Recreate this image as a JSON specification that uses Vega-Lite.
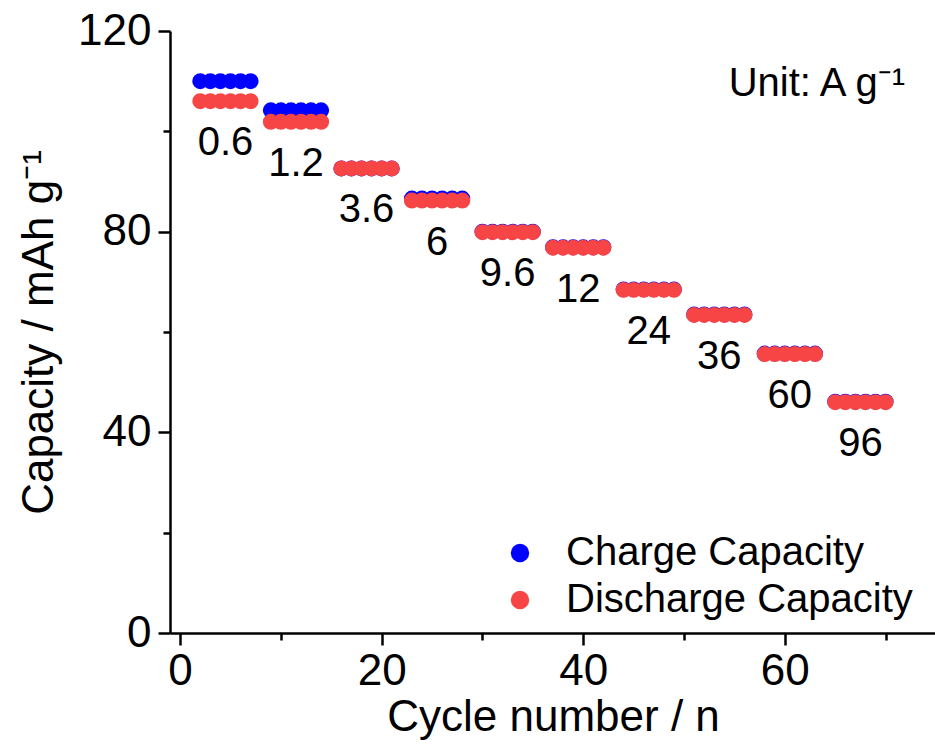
{
  "$schema": "https://vega.github.io/schema/vega-lite/v6.json",
  "width": 766,
  "height": 602,
  "autosize": "none",
  "padding": {"left": 170, "top": 31, "right": 0, "bottom": 123},
  "background": "white",
  "config": {
    "view": {"stroke": null},
    "font": "Liberation Sans",
    "axis": {
      "grid": false,
      "domainColor": "black",
      "domainWidth": 2.5,
      "tickColor": "black",
      "tickWidth": 2.5,
      "labelColor": "black",
      "labelFont": "Liberation Sans",
      "labelFontSize": 44,
      "titleColor": "black",
      "titleFont": "Liberation Sans",
      "titleFontSize": 44,
      "titleFontWeight": "normal"
    }
  },
  "title": {
    "text": "Unit: A g⁻¹",
    "orient": "top",
    "anchor": "end",
    "frame": "group",
    "offset": 0,
    "dx": -31,
    "dy": 127,
    "fontSize": 40,
    "fontWeight": "normal",
    "font": "Liberation Sans",
    "baseline": "alphabetic",
    "color": "black"
  },
  "data": {
    "values": [
      {"cycle": 2, "capacity": 110, "type": "Charge Capacity", "rate": "0.6"},
      {"cycle": 3, "capacity": 110, "type": "Charge Capacity", "rate": "0.6"},
      {"cycle": 4, "capacity": 110, "type": "Charge Capacity", "rate": "0.6"},
      {"cycle": 5, "capacity": 110, "type": "Charge Capacity", "rate": "0.6"},
      {"cycle": 6, "capacity": 110, "type": "Charge Capacity", "rate": "0.6"},
      {"cycle": 7, "capacity": 110, "type": "Charge Capacity", "rate": "0.6"},
      {"cycle": 9, "capacity": 104.2, "type": "Charge Capacity", "rate": "1.2"},
      {"cycle": 10, "capacity": 104.2, "type": "Charge Capacity", "rate": "1.2"},
      {"cycle": 11, "capacity": 104.2, "type": "Charge Capacity", "rate": "1.2"},
      {"cycle": 12, "capacity": 104.2, "type": "Charge Capacity", "rate": "1.2"},
      {"cycle": 13, "capacity": 104.2, "type": "Charge Capacity", "rate": "1.2"},
      {"cycle": 14, "capacity": 104.2, "type": "Charge Capacity", "rate": "1.2"},
      {"cycle": 16, "capacity": 92.6, "type": "Charge Capacity", "rate": "3.6"},
      {"cycle": 17, "capacity": 92.6, "type": "Charge Capacity", "rate": "3.6"},
      {"cycle": 18, "capacity": 92.6, "type": "Charge Capacity", "rate": "3.6"},
      {"cycle": 19, "capacity": 92.6, "type": "Charge Capacity", "rate": "3.6"},
      {"cycle": 20, "capacity": 92.6, "type": "Charge Capacity", "rate": "3.6"},
      {"cycle": 21, "capacity": 92.6, "type": "Charge Capacity", "rate": "3.6"},
      {"cycle": 23, "capacity": 86.6, "type": "Charge Capacity", "rate": "6"},
      {"cycle": 24, "capacity": 86.6, "type": "Charge Capacity", "rate": "6"},
      {"cycle": 25, "capacity": 86.6, "type": "Charge Capacity", "rate": "6"},
      {"cycle": 26, "capacity": 86.6, "type": "Charge Capacity", "rate": "6"},
      {"cycle": 27, "capacity": 86.6, "type": "Charge Capacity", "rate": "6"},
      {"cycle": 28, "capacity": 86.6, "type": "Charge Capacity", "rate": "6"},
      {"cycle": 30, "capacity": 80, "type": "Charge Capacity", "rate": "9.6"},
      {"cycle": 31, "capacity": 80, "type": "Charge Capacity", "rate": "9.6"},
      {"cycle": 32, "capacity": 80, "type": "Charge Capacity", "rate": "9.6"},
      {"cycle": 33, "capacity": 80, "type": "Charge Capacity", "rate": "9.6"},
      {"cycle": 34, "capacity": 80, "type": "Charge Capacity", "rate": "9.6"},
      {"cycle": 35, "capacity": 80, "type": "Charge Capacity", "rate": "9.6"},
      {"cycle": 37, "capacity": 76.9, "type": "Charge Capacity", "rate": "12"},
      {"cycle": 38, "capacity": 76.9, "type": "Charge Capacity", "rate": "12"},
      {"cycle": 39, "capacity": 76.9, "type": "Charge Capacity", "rate": "12"},
      {"cycle": 40, "capacity": 76.9, "type": "Charge Capacity", "rate": "12"},
      {"cycle": 41, "capacity": 76.9, "type": "Charge Capacity", "rate": "12"},
      {"cycle": 42, "capacity": 76.9, "type": "Charge Capacity", "rate": "12"},
      {"cycle": 44, "capacity": 68.5, "type": "Charge Capacity", "rate": "24"},
      {"cycle": 45, "capacity": 68.5, "type": "Charge Capacity", "rate": "24"},
      {"cycle": 46, "capacity": 68.5, "type": "Charge Capacity", "rate": "24"},
      {"cycle": 47, "capacity": 68.5, "type": "Charge Capacity", "rate": "24"},
      {"cycle": 48, "capacity": 68.5, "type": "Charge Capacity", "rate": "24"},
      {"cycle": 49, "capacity": 68.5, "type": "Charge Capacity", "rate": "24"},
      {"cycle": 51, "capacity": 63.5, "type": "Charge Capacity", "rate": "36"},
      {"cycle": 52, "capacity": 63.5, "type": "Charge Capacity", "rate": "36"},
      {"cycle": 53, "capacity": 63.5, "type": "Charge Capacity", "rate": "36"},
      {"cycle": 54, "capacity": 63.5, "type": "Charge Capacity", "rate": "36"},
      {"cycle": 55, "capacity": 63.5, "type": "Charge Capacity", "rate": "36"},
      {"cycle": 56, "capacity": 63.5, "type": "Charge Capacity", "rate": "36"},
      {"cycle": 58, "capacity": 55.7, "type": "Charge Capacity", "rate": "60"},
      {"cycle": 59, "capacity": 55.7, "type": "Charge Capacity", "rate": "60"},
      {"cycle": 60, "capacity": 55.7, "type": "Charge Capacity", "rate": "60"},
      {"cycle": 61, "capacity": 55.7, "type": "Charge Capacity", "rate": "60"},
      {"cycle": 62, "capacity": 55.7, "type": "Charge Capacity", "rate": "60"},
      {"cycle": 63, "capacity": 55.7, "type": "Charge Capacity", "rate": "60"},
      {"cycle": 65, "capacity": 46.1, "type": "Charge Capacity", "rate": "96"},
      {"cycle": 66, "capacity": 46.1, "type": "Charge Capacity", "rate": "96"},
      {"cycle": 67, "capacity": 46.1, "type": "Charge Capacity", "rate": "96"},
      {"cycle": 68, "capacity": 46.1, "type": "Charge Capacity", "rate": "96"},
      {"cycle": 69, "capacity": 46.1, "type": "Charge Capacity", "rate": "96"},
      {"cycle": 70, "capacity": 46.1, "type": "Charge Capacity", "rate": "96"},
      {"cycle": 2, "capacity": 106, "type": "Discharge Capacity", "rate": "0.6"},
      {"cycle": 3, "capacity": 106, "type": "Discharge Capacity", "rate": "0.6"},
      {"cycle": 4, "capacity": 106, "type": "Discharge Capacity", "rate": "0.6"},
      {"cycle": 5, "capacity": 106, "type": "Discharge Capacity", "rate": "0.6"},
      {"cycle": 6, "capacity": 106, "type": "Discharge Capacity", "rate": "0.6"},
      {"cycle": 7, "capacity": 106, "type": "Discharge Capacity", "rate": "0.6"},
      {"cycle": 9, "capacity": 101.9, "type": "Discharge Capacity", "rate": "1.2"},
      {"cycle": 10, "capacity": 101.9, "type": "Discharge Capacity", "rate": "1.2"},
      {"cycle": 11, "capacity": 101.9, "type": "Discharge Capacity", "rate": "1.2"},
      {"cycle": 12, "capacity": 101.9, "type": "Discharge Capacity", "rate": "1.2"},
      {"cycle": 13, "capacity": 101.9, "type": "Discharge Capacity", "rate": "1.2"},
      {"cycle": 14, "capacity": 101.9, "type": "Discharge Capacity", "rate": "1.2"},
      {"cycle": 16, "capacity": 92.6, "type": "Discharge Capacity", "rate": "3.6"},
      {"cycle": 17, "capacity": 92.6, "type": "Discharge Capacity", "rate": "3.6"},
      {"cycle": 18, "capacity": 92.6, "type": "Discharge Capacity", "rate": "3.6"},
      {"cycle": 19, "capacity": 92.6, "type": "Discharge Capacity", "rate": "3.6"},
      {"cycle": 20, "capacity": 92.6, "type": "Discharge Capacity", "rate": "3.6"},
      {"cycle": 21, "capacity": 92.6, "type": "Discharge Capacity", "rate": "3.6"},
      {"cycle": 23, "capacity": 86.2, "type": "Discharge Capacity", "rate": "6"},
      {"cycle": 24, "capacity": 86.2, "type": "Discharge Capacity", "rate": "6"},
      {"cycle": 25, "capacity": 86.2, "type": "Discharge Capacity", "rate": "6"},
      {"cycle": 26, "capacity": 86.2, "type": "Discharge Capacity", "rate": "6"},
      {"cycle": 27, "capacity": 86.2, "type": "Discharge Capacity", "rate": "6"},
      {"cycle": 28, "capacity": 86.2, "type": "Discharge Capacity", "rate": "6"},
      {"cycle": 30, "capacity": 79.9, "type": "Discharge Capacity", "rate": "9.6"},
      {"cycle": 31, "capacity": 79.9, "type": "Discharge Capacity", "rate": "9.6"},
      {"cycle": 32, "capacity": 79.9, "type": "Discharge Capacity", "rate": "9.6"},
      {"cycle": 33, "capacity": 79.9, "type": "Discharge Capacity", "rate": "9.6"},
      {"cycle": 34, "capacity": 79.9, "type": "Discharge Capacity", "rate": "9.6"},
      {"cycle": 35, "capacity": 79.9, "type": "Discharge Capacity", "rate": "9.6"},
      {"cycle": 37, "capacity": 76.8, "type": "Discharge Capacity", "rate": "12"},
      {"cycle": 38, "capacity": 76.8, "type": "Discharge Capacity", "rate": "12"},
      {"cycle": 39, "capacity": 76.8, "type": "Discharge Capacity", "rate": "12"},
      {"cycle": 40, "capacity": 76.8, "type": "Discharge Capacity", "rate": "12"},
      {"cycle": 41, "capacity": 76.8, "type": "Discharge Capacity", "rate": "12"},
      {"cycle": 42, "capacity": 76.8, "type": "Discharge Capacity", "rate": "12"},
      {"cycle": 44, "capacity": 68.4, "type": "Discharge Capacity", "rate": "24"},
      {"cycle": 45, "capacity": 68.4, "type": "Discharge Capacity", "rate": "24"},
      {"cycle": 46, "capacity": 68.4, "type": "Discharge Capacity", "rate": "24"},
      {"cycle": 47, "capacity": 68.4, "type": "Discharge Capacity", "rate": "24"},
      {"cycle": 48, "capacity": 68.4, "type": "Discharge Capacity", "rate": "24"},
      {"cycle": 49, "capacity": 68.4, "type": "Discharge Capacity", "rate": "24"},
      {"cycle": 51, "capacity": 63.4, "type": "Discharge Capacity", "rate": "36"},
      {"cycle": 52, "capacity": 63.4, "type": "Discharge Capacity", "rate": "36"},
      {"cycle": 53, "capacity": 63.4, "type": "Discharge Capacity", "rate": "36"},
      {"cycle": 54, "capacity": 63.4, "type": "Discharge Capacity", "rate": "36"},
      {"cycle": 55, "capacity": 63.4, "type": "Discharge Capacity", "rate": "36"},
      {"cycle": 56, "capacity": 63.4, "type": "Discharge Capacity", "rate": "36"},
      {"cycle": 58, "capacity": 55.6, "type": "Discharge Capacity", "rate": "60"},
      {"cycle": 59, "capacity": 55.6, "type": "Discharge Capacity", "rate": "60"},
      {"cycle": 60, "capacity": 55.6, "type": "Discharge Capacity", "rate": "60"},
      {"cycle": 61, "capacity": 55.6, "type": "Discharge Capacity", "rate": "60"},
      {"cycle": 62, "capacity": 55.6, "type": "Discharge Capacity", "rate": "60"},
      {"cycle": 63, "capacity": 55.6, "type": "Discharge Capacity", "rate": "60"},
      {"cycle": 65, "capacity": 46, "type": "Discharge Capacity", "rate": "96"},
      {"cycle": 66, "capacity": 46, "type": "Discharge Capacity", "rate": "96"},
      {"cycle": 67, "capacity": 46, "type": "Discharge Capacity", "rate": "96"},
      {"cycle": 68, "capacity": 46, "type": "Discharge Capacity", "rate": "96"},
      {"cycle": 69, "capacity": 46, "type": "Discharge Capacity", "rate": "96"},
      {"cycle": 70, "capacity": 46, "type": "Discharge Capacity", "rate": "96"}
    ]
  },
  "layer": [
    {
      "mark": {"type": "point", "filled": true, "shape": "circle", "size": 254, "opacity": 1, "strokeWidth": 0},
      "encoding": {
        "x": {
          "field": "cycle",
          "type": "quantitative",
          "scale": {"domain": [-1, 75], "nice": false, "zero": false},
          "axis": {
            "title": "Cycle number / n",
            "values": [0, 10, 20, 30, 40, 50, 60, 70],
            "labelExpr": "datum.value % 20 === 0 ? datum.label : ''",
            "tickSize": {"condition": {"test": "datum.value % 20 === 0", "value": 12}, "value": 7},
            "labelPadding": 4,
            "titlePadding": 2
          }
        },
        "y": {
          "field": "capacity",
          "type": "quantitative",
          "scale": {"domain": [0, 120], "nice": false},
          "axis": {
            "title": "Capacity / mAh g⁻¹",
            "values": [0, 20, 40, 60, 80, 100, 120],
            "labelExpr": "datum.value % 40 === 0 ? datum.label : ''",
            "tickSize": {"condition": {"test": "datum.value % 40 === 0", "value": 12}, "value": 7},
            "labelPadding": 7,
            "titlePadding": 16
          }
        },
        "color": {
          "field": "type",
          "type": "nominal",
          "scale": {"domain": ["Charge Capacity", "Discharge Capacity"], "range": ["#0000FF", "#F74545"]},
          "legend": {
            "title": null,
            "orient": "none",
            "legendX": 330,
            "legendY": 502,
            "padding": 0,
            "labelFontSize": 40,
            "labelFont": "Liberation Sans",
            "labelColor": "black",
            "labelLimit": 0,
            "labelOffset": 26,
            "rowPadding": 7,
            "symbolType": "circle",
            "symbolSize": 340,
            "symbolStrokeWidth": 0,
            "symbolOpacity": 1
          }
        }
      }
    },
    {
      "transform": [
        {"filter": "datum.type === 'Discharge Capacity'"},
        {"aggregate": [
          {"op": "mean", "field": "cycle", "as": "cycle"},
          {"op": "min", "field": "capacity", "as": "capacity"}
        ], "groupby": ["rate"]}
      ],
      "mark": {"type": "text", "fontSize": 40, "font": "Liberation Sans", "dy": 54, "baseline": "alphabetic", "align": "center", "color": "black"},
      "encoding": {
        "x": {"field": "cycle", "type": "quantitative"},
        "y": {"field": "capacity", "type": "quantitative"},
        "text": {"field": "rate"}
      }
    }
  ]
}
